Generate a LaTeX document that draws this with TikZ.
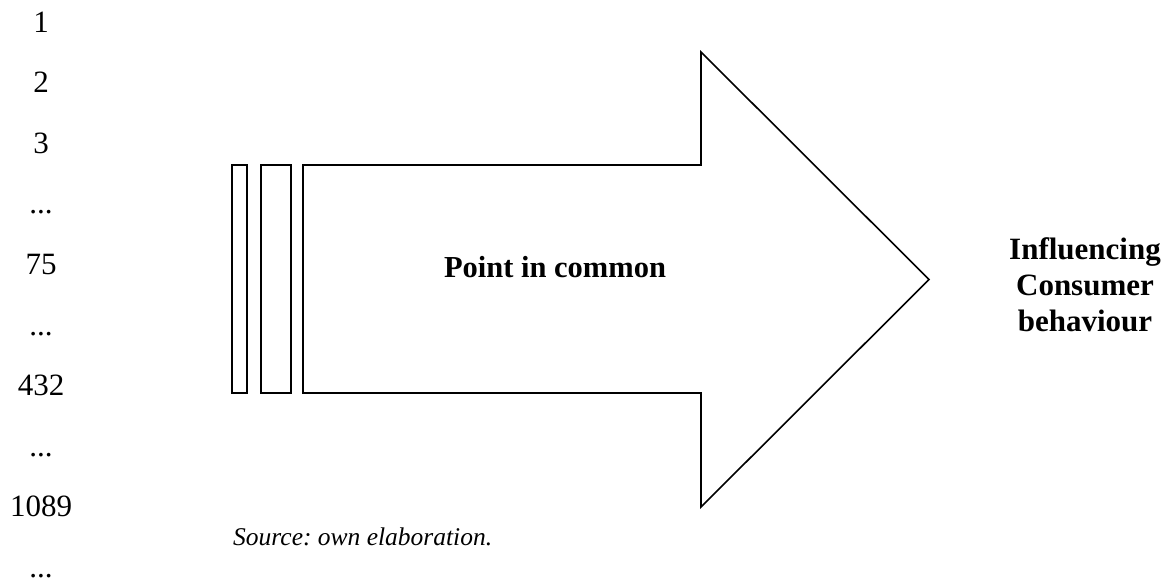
\documentclass[tikz,border=0pt]{standalone}
\usepackage{fontspec}
\setmainfont{Liberation Serif}
\frenchspacing
\begin{document}
\begin{tikzpicture}[x=1pt,y=-1pt,
  outline/.style={draw=black,line width=1.6pt,line join=miter},
  numlabel/.style={anchor=base,inner sep=0pt,font=\fontsize{31}{36}\selectfont},
  boldlabel/.style={inner sep=0pt,font=\fontsize{30.5}{36}\selectfont\bfseries},
  sidelabel/.style={inner sep=0pt,align=center,font=\fontsize{31}{36}\selectfont\bfseries},
  notelabel/.style={anchor=base west,inner sep=0pt,font=\fontsize{25.5}{30}\selectfont\itshape}]
\useasboundingbox (0,0) rectangle (1169,584);

% column of indices on the left
\node[numlabel] (n1)    at (41,32.0)  {1};
\node[numlabel] (n2)    at (41,92.6)  {2};
\node[numlabel] (n3)    at (41,153.2) {3};
\node[numlabel] (d1)    at (41,213.8) {...};
\node[numlabel] (n75)   at (41,274.4) {75};
\node[numlabel] (d2)    at (41,335.0) {...};
\node[numlabel] (n432)  at (41,395.6) {432};
\node[numlabel] (d3)    at (41,456.2) {...};
\node[numlabel] (n1089) at (41,516.8) {1089};
\node[numlabel] (d4)    at (41,577.0) {...};

% two thin bars feeding the arrow
\draw[outline] (232,165) rectangle (247,393);
\draw[outline] (261,165) rectangle (291,393);

% the big block arrow
\draw[outline] (303,165) -- (701,165) -- (701,52) -- (929,279.5)
  -- (701,507) -- (701,393) -- (303,393) -- cycle;

\node[boldlabel,anchor=base] (common) at (555,277) {Point in common};

\node[sidelabel] (result) at (1085,285) {Influencing\\Consumer\\behaviour};

\node[notelabel] (source) at (233,545) {Source: own elaboration.};
\end{tikzpicture}
\end{document}
